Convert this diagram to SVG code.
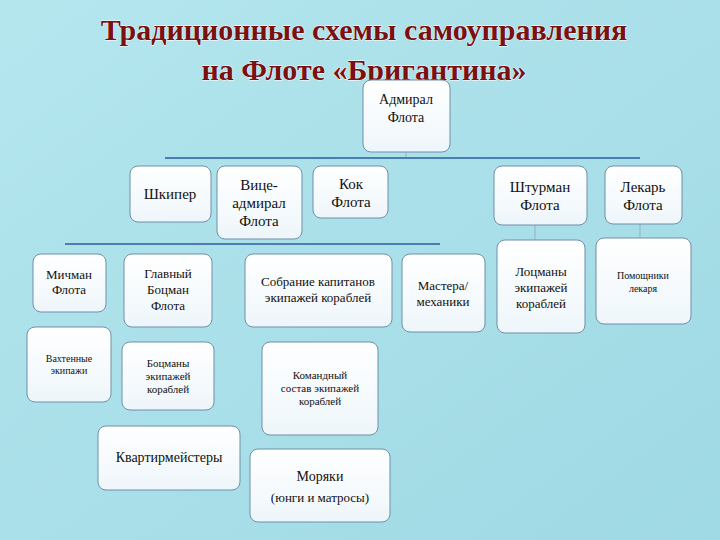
<svg xmlns="http://www.w3.org/2000/svg" width="720" height="540" viewBox="0 0 720 540" font-family="Liberation Serif, DejaVu Serif, serif">
<defs>
<linearGradient id="bg" x1="0" y1="0" x2="1" y2="1"><stop offset="0" stop-color="#b4e6ee"/><stop offset="1" stop-color="#9fd9e4"/></linearGradient>
<linearGradient id="nb" x1="0" y1="0" x2="0" y2="1"><stop offset="0" stop-color="#ffffff"/><stop offset="1" stop-color="#eef6fb"/></linearGradient>
</defs>
<style>
.n rect{fill:url(#nb);stroke:#6f8fa8;stroke-width:1}
.n text{fill:#111;text-anchor:middle;font-family:Liberation Serif,DejaVu Serif,serif}
.c line{stroke:#4a7fb5;stroke-width:2}
.c line.t{stroke:#8fb1c8;stroke-width:1}
.title{font-weight:bold;font-size:30px;fill:#7a1010;text-anchor:middle;stroke:#fff;stroke-width:0.8;paint-order:stroke}
</style>
<rect width="720" height="540" fill="url(#bg)"/>
<text class="title" x="364" y="40">Традиционные схемы самоуправления</text>
<text class="title" x="364" y="80">на Флоте «Бригантина»</text>
<g class="c">
<line x1="406" y1="152" x2="406" y2="158" class="t"/>
<line x1="165" y1="158" x2="640" y2="158"/>
<line x1="65" y1="244" x2="440" y2="244"/>
<line x1="535" y1="225" x2="535" y2="240" class="t"/>
<line x1="640" y1="224" x2="640" y2="238" class="t"/>
</g>
<g id="admiral" class="n"><rect x="363" y="80" width="87" height="72" rx="8"/><text x="406" y="104" font-size="14">Адмирал</text><text x="406" y="122" font-size="14">Флота</text></g>
<g id="skipper" class="n"><rect x="130" y="166" width="81" height="56" rx="8"/><text x="170" y="199" font-size="15">Шкипер</text></g>
<g id="vice" class="n"><rect x="217" y="166" width="85" height="73" rx="8"/><text x="259" y="190" font-size="15">Вице-</text><text x="259" y="208" font-size="15">адмирал</text><text x="259" y="226" font-size="15">Флота</text></g>
<g id="kok" class="n"><rect x="313" y="166" width="75" height="52" rx="8"/><text x="351" y="189" font-size="15">Кок</text><text x="351" y="207" font-size="15">Флота</text></g>
<g id="shturman" class="n"><rect x="494" y="166" width="93" height="59" rx="8"/><text x="540" y="192" font-size="15">Штурман</text><text x="540" y="210" font-size="15">Флота</text></g>
<g id="lekar" class="n"><rect x="605" y="166" width="77" height="58" rx="8"/><text x="643" y="192" font-size="15">Лекарь</text><text x="643" y="210" font-size="15">Флота</text></g>
<g id="michman" class="n"><rect x="33" y="254" width="73" height="58" rx="8"/><text x="69" y="279" font-size="13">Мичман</text><text x="69" y="294" font-size="13">Флота</text></g>
<g id="glbotsman" class="n"><rect x="124" y="254" width="88" height="73" rx="8"/><text x="168" y="278" font-size="13">Главный</text><text x="168" y="294" font-size="13">Боцман</text><text x="168" y="310" font-size="13">Флота</text></g>
<g id="sobranie" class="n"><rect x="245" y="254" width="147" height="73" rx="8"/><text x="318" y="286" font-size="13">Собрание капитанов</text><text x="318" y="302" font-size="13">экипажей кораблей</text></g>
<g id="mastera" class="n"><rect x="402" y="254" width="83" height="78" rx="8"/><text x="443" y="290" font-size="13">Мастера/</text><text x="443" y="306" font-size="13">механики</text></g>
<g id="lotsmany" class="n"><rect x="497" y="240" width="88" height="93" rx="8"/><text x="541" y="276" font-size="13">Лоцманы</text><text x="541" y="292" font-size="13">экипажей</text><text x="541" y="308" font-size="13">кораблей</text></g>
<g id="pomoshniki" class="n"><rect x="596" y="238" width="95" height="86" rx="8"/><text x="643" y="279" font-size="10">Помощники</text><text x="643" y="292" font-size="10">лекаря</text></g>
<g id="vakhtennye" class="n"><rect x="27" y="327" width="84" height="75" rx="8"/><text x="69" y="362" font-size="10">Вахтенные</text><text x="69" y="374" font-size="10">экипажи</text></g>
<g id="botsmany" class="n"><rect x="122" y="342" width="92" height="68" rx="8"/><text x="168" y="367" font-size="11">Боцманы</text><text x="168" y="380" font-size="11">экипажей</text><text x="168" y="393" font-size="11">кораблей</text></g>
<g id="komandny" class="n"><rect x="262" y="342" width="116" height="93" rx="8"/><text x="320" y="379" font-size="11">Командный</text><text x="320" y="392" font-size="11">состав экипажей</text><text x="320" y="405" font-size="11">кораблей</text></g>
<g id="kvartir" class="n"><rect x="98" y="426" width="142" height="64" rx="8"/><text x="169" y="462" font-size="14">Квартирмейстеры</text></g>
<g id="moryaki" class="n"><rect x="250" y="449" width="140" height="73" rx="8"/><text x="320" y="481" font-size="14">Моряки</text><text x="320" y="502" font-size="13">(юнги и матросы)</text></g>
</svg>
